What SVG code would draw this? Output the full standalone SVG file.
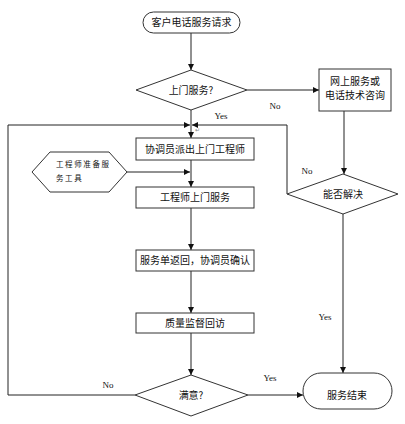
<svg xmlns="http://www.w3.org/2000/svg" width="405" height="424" viewBox="0 0 405 424">
<style>
.s{fill:#fff;stroke:#333;stroke-width:1}
.l{fill:none;stroke:#222;stroke-width:1}
.t{font-family:"Noto Sans CJK SC","Noto Sans",sans-serif;font-size:10px;fill:#111;text-anchor:middle}
.h{font-family:"Noto Sans CJK SC","Noto Sans",sans-serif;font-size:7.5px;fill:#111;letter-spacing:1.6px}
.y{font-family:"Liberation Serif",serif;font-size:9px;fill:#111;text-anchor:middle}
</style>
<defs>
<marker id="a" viewBox="0 0 6 6" refX="6" refY="3" markerWidth="6" markerHeight="6" orient="auto" markerUnits="userSpaceOnUse">
<path d="M0,0 L6,3 L0,6 Z" fill="#111"/>
</marker>
</defs>
<rect width="405" height="424" fill="#fff"/>
<g id="connectors">
<path class="l" d="M191,33 V70" marker-end="url(#a)"/>
<path class="l" d="M247,90 H319" marker-end="url(#a)"/>
<path class="l" d="M191,110 V125"/>
<path class="l" d="M191,125 V138" marker-end="url(#a)"/>
<path class="l" d="M344,111 V174" marker-end="url(#a)"/>
<path class="l" d="M287,194 V125 H192" marker-end="url(#a)"/>
<path class="l" d="M135,395 H8 V125 H190" marker-end="url(#a)"/>
<path class="l" d="M191,160 V187" marker-end="url(#a)"/>
<path class="l" d="M127,172 H190" marker-end="url(#a)"/>
<path class="l" d="M191,208 V250" marker-end="url(#a)"/>
<path class="l" d="M191,271 V313" marker-end="url(#a)"/>
<path class="l" d="M191,333 V375" marker-end="url(#a)"/>
<path class="l" d="M248,395 H303" marker-end="url(#a)"/>
<path class="l" d="M343,214 V373" marker-end="url(#a)"/>
<text class="y" x="275" y="109">No</text>
<text class="y" x="221" y="119">Yes</text>
<text class="y" x="307" y="174">No</text>
<text class="y" x="325" y="320">Yes</text>
<text class="y" x="108" y="388">No</text>
<text class="y" x="270" y="381">Yes</text>
<text x="195" y="132" font-family="DejaVu Sans,sans-serif" font-size="6" fill="#888">↵</text>
</g>
<g id="start">
<rect class="s" x="143" y="12" width="97" height="21" rx="10.5"/>
<text class="t" x="191.5" y="26">客户电话服务请求</text>
</g>
<g id="d1">
<polygon class="s" points="136,90 191,70 247,90 191,110"/>
<text class="t" x="191" y="94">上门服务?</text>
</g>
<g id="online">
<rect class="s" x="319" y="69" width="72" height="42"/>
<text class="t" x="355" y="85">网上服务或</text>
<text class="t" x="355" y="99">电话技术咨询</text>
</g>
<g id="d2">
<polygon class="s" points="287,194 343,174 398,194 343,214"/>
<text class="t" x="343" y="198">能否解决</text>
</g>
<g id="b1">
<rect class="s" x="136" y="138" width="118" height="22"/>
<text class="t" x="195" y="153">协调员派出上门工程师</text>
</g>
<g id="hex">
<polygon class="s" points="32,172 50,152 109,152 127,172 109,192 50,192"/>
<text class="h" x="56" y="167">工程师准备服</text>
<text class="h" x="56" y="181">务工具</text>
</g>
<g id="b2">
<rect class="s" x="136" y="187" width="118" height="21"/>
<text class="t" x="195" y="201">工程师上门服务</text>
</g>
<g id="b3">
<rect class="s" x="136" y="250" width="118" height="21"/>
<text class="t" x="195" y="264">服务单返回，协调员确认</text>
</g>
<g id="b4">
<rect class="s" x="136" y="313" width="118" height="20"/>
<text class="t" x="195" y="327">质量监督回访</text>
</g>
<g id="d3">
<polygon class="s" points="135,395 191,375 248,395 191,416"/>
<text class="t" x="191" y="399">满意?</text>
</g>
<g id="end">
<rect class="s" x="303" y="373" width="89" height="36" rx="18"/>
<text class="t" x="347" y="399">服务结束</text>
</g>
</svg>
